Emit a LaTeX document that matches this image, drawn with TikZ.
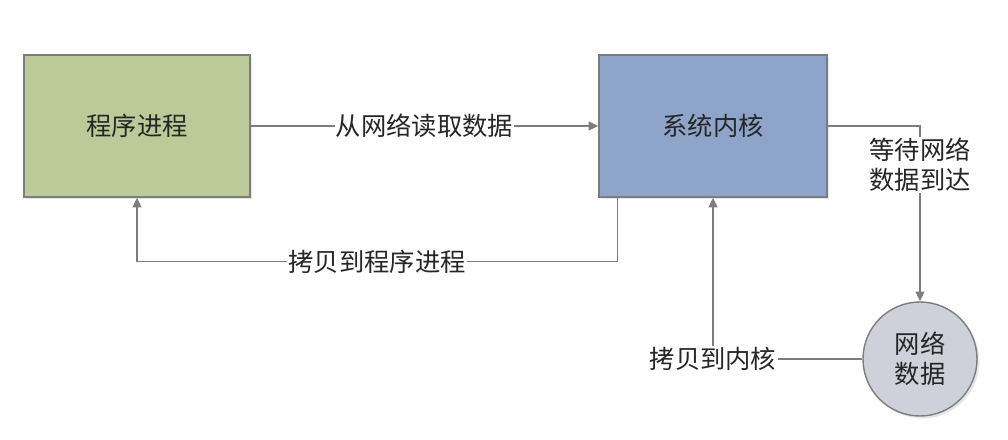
\documentclass[tikz,border=0pt]{standalone}
\usepackage{fontspec}
\setmainfont{Noto Sans CJK SC}
\usepackage{xcolor}
\usepackage{tikz}
\usetikzlibrary{positioning,arrows.meta,shadows}
\definecolor{procgreen}{RGB}{187,202,152}
\definecolor{kernblue}{RGB}{142,164,200}
\definecolor{netgray}{RGB}{206,209,218}
\definecolor{linegray}{RGB}{125,125,125}
\tikzset{
  blk/.style={draw=linegray, line width=1pt, minimum height=35.5mm, minimum width=56.5mm, font=\fontsize{18}{22}\selectfont, text=black!85, align=center, drop shadow={opacity=0.2, shadow xshift=0.6mm, shadow yshift=-0.6mm}},
  circ/.style={circle, draw=linegray, line width=1pt, fill=netgray, minimum size=28.5mm, inner sep=0pt, font=\fontsize{18}{21}\selectfont, text=black!85, align=center, drop shadow={opacity=0.2, shadow xshift=0.6mm, shadow yshift=-0.6mm}},
  flow/.style={-{Triangle[length=2.4mm,width=2.2mm]}, line width=1pt, draw=linegray},
  fl/.style={font=\fontsize{18}{21}\selectfont, text=black!85, fill=white, inner sep=1pt, align=center},
}
\begin{document}
\begin{tikzpicture}
\useasboundingbox (0,0) rectangle (25.2,11);
\node[blk, fill=procgreen] (proc) at (3.425,7.85) {程序进程};
\node[blk, fill=kernblue, minimum width=57mm] (kern) at (17.825,7.85) {系统内核};
\node[circ] (net) at (23,2.025) {网络\\数据};
\draw[flow] (proc) -- (kern) node[fl,pos=0.5]{从网络读取数据};
\draw[flow] ([xshift=4.75mm]kern.south west) -- ++(0,-1.6) -| (proc.south) node[fl,pos=0.25]{拷贝到程序进程};
\draw[flow] (kern.east) -| (net.north) node[fl,pos=0.61]{等待网络\\数据到达};
\draw[flow] (net.west) -| (kern.south) node[fl,pos=0.5]{拷贝到内核};
\end{tikzpicture}
\end{document}
